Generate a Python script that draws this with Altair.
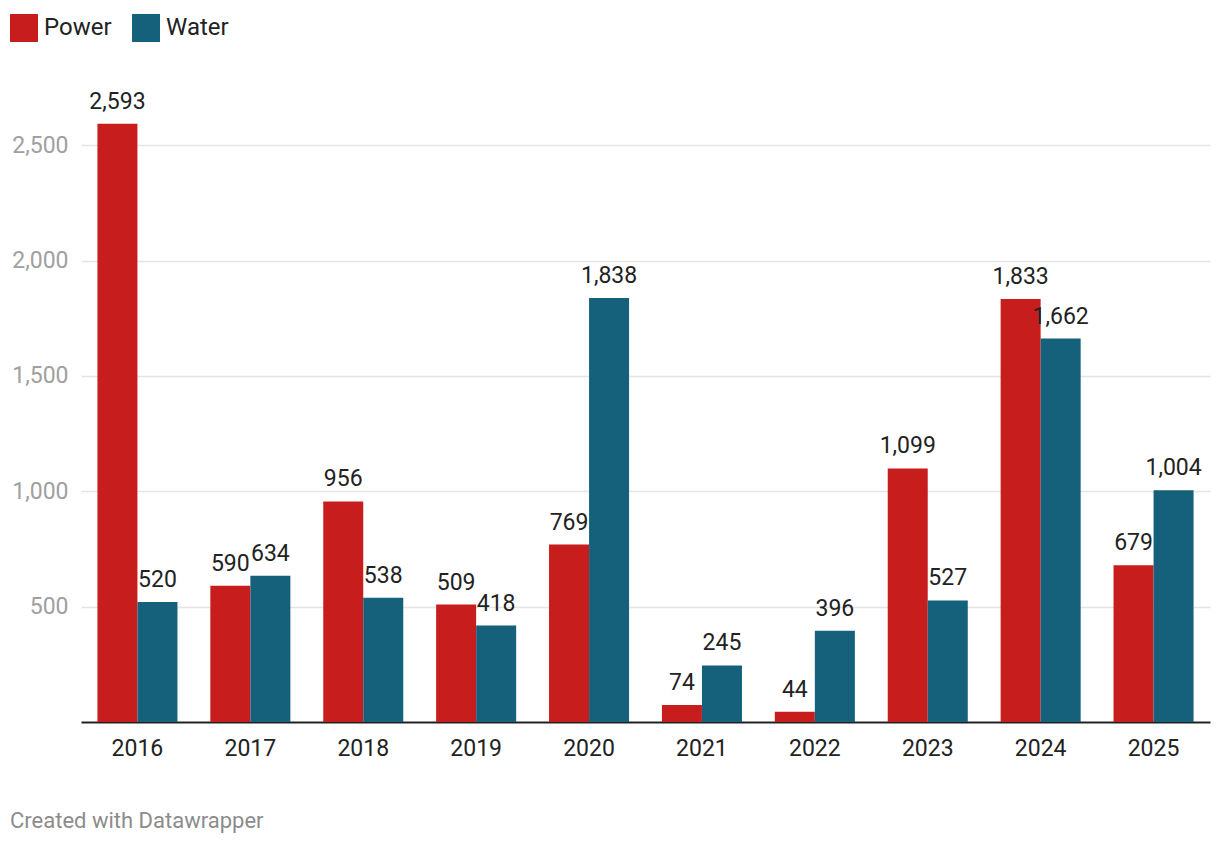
import altair as alt
import pandas as pd

years = ["2016", "2017", "2018", "2019", "2020", "2021", "2022", "2023", "2024", "2025"]
power = [2593, 590, 956, 509, 769, 74, 44, 1099, 1833, 679]
water = [520, 634, 538, 418, 1838, 245, 396, 527, 1662, 1004]
series = ["Power", "Water"]
colors = ["#c71e1d", "#15607a"]
y_ticks = [500, 1000, 1500, 2000, 2500]

rows = []
for i, y in enumerate(years):
    rows.append({"year": y, "series": "Power", "value": power[i]})
    rows.append({"year": y, "series": "Water", "value": water[i]})
df = pd.DataFrame(rows)

FONT = "Roboto"
W, H = 1129, 623

x = alt.X("year:N", title=None,
          scale=alt.Scale(paddingInner=0.291, paddingOuter=0.1455),
          axis=alt.Axis(labelAngle=0, labelFontSize=23, labelColor="#222222",
                        labelPadding=15, ticks=False, domainColor="#222222",
                        domainWidth=2, labelFont=FONT))
y = alt.Y("value:Q", title=None,
          scale=alt.Scale(domain=[0, 2700], nice=False),
          axis=alt.Axis(values=y_ticks, format=",.0f", labelFontSize=23, labelColor="#a0a0a0",
                        labelPadding=13, ticks=False, domain=False, gridColor="#e4e4e4",
                        gridWidth=1.5, labelFont=FONT))
color = alt.Color("series:N", scale=alt.Scale(domain=series, range=colors),
                  legend=alt.Legend(title=None, orient="none", legendX=-71, legendY=-85,
                                    direction="horizontal", symbolType="square",
                                    symbolSize=784, symbolStrokeWidth=0, symbolOpacity=1,
                                    labelFontSize=24, labelColor="#222222", labelFont=FONT,
                                    columnPadding=20, labelOffset=6, padding=0))

base = alt.Chart(df).encode(x=x, xOffset=alt.XOffset("series:N", sort=series))

bars = base.mark_bar(width=40).encode(y=y, color=color)
labels = base.mark_text(baseline="alphabetic", dy=-15, fontSize=23, color="#222222", font=FONT).encode(
    y="value:Q", text=alt.Text("value:Q", format=",.0f"))

footer = alt.Chart(pd.DataFrame({"t": ["Created with Datawrapper"]})).mark_text(
    align="left", baseline="middle", fontSize=22, color="#8c8c8c", font=FONT
).encode(text="t:N", x=alt.value(-71), y=alt.value(722))

chart = alt.layer(bars, labels, footer).properties(
    width=W, height=H,
    padding={"left": 73, "top": 91, "right": 2, "bottom": 114},
    autosize=alt.AutoSizeParams(type="none"),
).configure(font=FONT).configure_view(stroke="transparent", strokeWidth=0)

chart.save("out.html", embed_options={"renderer": "svg", "actions": False})
